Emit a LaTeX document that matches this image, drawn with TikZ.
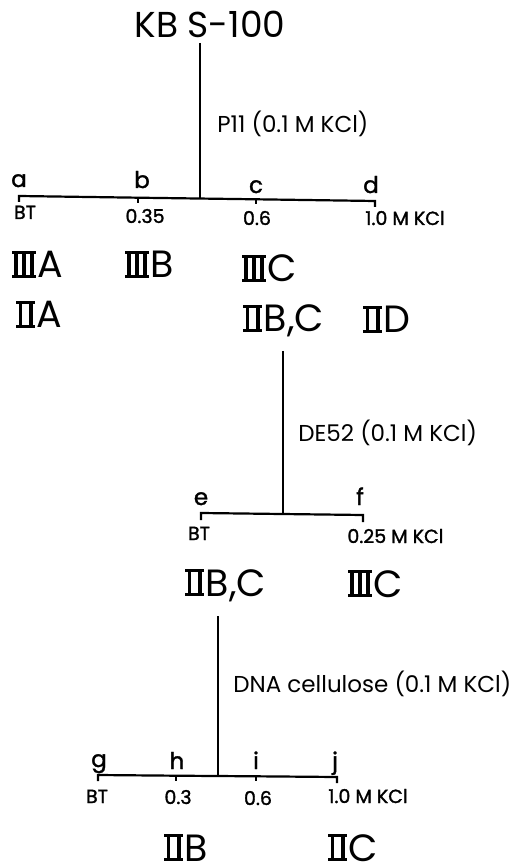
\documentclass[tikz,border=0pt]{standalone}
\usepackage{fontspec}
\setmainfont{Poppins}
\newfontfamily\medfont{Poppins}[FakeBold=1.5]
\newcommand\romII{\leavevmode\vbox{\hrule height .08em width .5em
  \hbox to .5em{\hskip .06em\vrule height .55em width .1em\hfil\vrule height .55em width .1em\hskip .06em}%
  \hrule height .08em width .5em}\kern.04em}
\newcommand\romIII{\leavevmode\vbox{\hrule height .08em width .62em
  \hbox to .62em{\hskip .05em\vrule height .55em width .1em\hfil\vrule height .55em width .1em\hfil\vrule height .55em width .1em\hskip .05em}%
  \hrule height .08em width .62em}\kern.04em}
\begin{document}
\begin{tikzpicture}[x=0.5pt,y=-0.5pt,
  ln/.style={line width=1.1pt},
  title/.style={font=\fontsize{18}{18}\selectfont, inner sep=0pt, anchor=base},
  frac/.style={font=\fontsize{19}{19}\selectfont, inner sep=0pt, anchor=base west},
  lett/.style={font=\fontsize{11.5}{12}\selectfont\medfont, inner sep=0pt, anchor=base},
  conc/.style={font=\fontsize{9.5}{10}\selectfont\medfont, inner sep=0pt, anchor=base},
  concw/.style={conc, anchor=base west},
  cond/.style={font=\fontsize{11.5}{12}\selectfont, inner sep=0pt, anchor=base west}]
\useasboundingbox (0,0) rectangle (514,865);
% ---- section 1
\node[title] (kb) at (210,38) {KB S-100};
\coordinate (s1top) at (200,43);
\coordinate (j1) at (200,198.5);
\draw[ln] (s1top) -- (j1);
\node[cond] (p11) at (217,133) {P11 (0.1 M KCl)};
\coordinate (a) at (19,196);
\coordinate (b) at (138,197.7);
\coordinate (c) at (256,199.3);
\coordinate (d) at (375,201);
\draw[ln] ([yshift=-3pt]a) -- (a) -- (b) -- (c) -- (d) -- ([yshift=-3pt]d);
\draw[ln] (b) -- ([yshift=-2.5pt]b);
\draw[ln] (c) -- ([yshift=-2.5pt]c);
\node[lett] (la) at (19,187) {a};
\node[lett] (lb) at (142,188) {b};
\node[lett] (lc) at (256,193) {c};
\node[lett] (ld) at (371,193) {d};
\node[conc] (ca) at (25,219) {BT};
\node[conc] (cb) at (145,223) {0.35};
\node[conc] (cc) at (257,225) {0.6};
\node[concw] (cd) at (365,225) {1.0 M KCl};
\node[frac] (f3a) at (12,278) {\romIII A};
\node[frac] (f3b) at (125,278) {\romIII B};
\node[frac] (f3c) at (242,282) {\romIII C};
\node[frac] (f2a) at (16,328) {\romII A};
\node[frac] (f2bc) at (243,332) {\romII B,C};
\node[frac] (f2d) at (363,333) {\romII D};
% ---- section 2
\coordinate (s2top) at (283,351);
\coordinate (j2) at (283,514);
\draw[ln] (s2top) -- (j2);
\node[cond] (de52) at (298,441) {DE52 (0.1 M KCl)};
\coordinate (e) at (201,513);
\coordinate (f) at (363,515);
\draw[ln] ([yshift=-3.5pt]e) -- (e) -- (f) -- ([yshift=-3.5pt]f);
\node[lett] (le) at (201,505) {e};
\node[lett] (lf) at (360,505) {f};
\node[conc] (ce) at (199,540) {BT};
\node[concw] (cf) at (347,543) {0.25 M KCl};
\node[frac] (g2bc) at (185,596) {\romII B,C};
\node[frac] (g3c) at (348,597) {\romIII C};
% ---- section 3
\coordinate (s3top) at (218,616);
\coordinate (j3) at (218,776);
\draw[ln] (s3top) -- (j3);
\node[cond] (dna) at (233,692) {DNA cellulose (0.1 M KCl)};
\coordinate (g) at (98,775);
\coordinate (h) at (176,775.7);
\coordinate (i) at (256,776.3);
\coordinate (jj) at (337,777);
\draw[ln] ([yshift=-3pt]g) -- (g) -- (h) -- (i) -- (jj) -- ([yshift=-3pt]jj);
\draw[ln] (h) -- ([yshift=-2.5pt]h);
\draw[ln] (i) -- ([yshift=-2.5pt]i);
\node[lett] (lg) at (99,767) {g};
\node[lett] (lh) at (177,769) {h};
\node[lett] (li) at (256,769) {i};
\node[lett] (lj) at (335,769) {j};
\node[conc] (cg) at (97,803) {BT};
\node[conc] (ch) at (178,804) {0.3};
\node[conc] (ci) at (258,805) {0.6};
\node[concw] (cj) at (328,803) {1.0 M KCl};
\node[frac] (h2b) at (164,861) {\romII B};
\node[frac] (h2c) at (328,861) {\romII C};
\end{tikzpicture}
\end{document}
